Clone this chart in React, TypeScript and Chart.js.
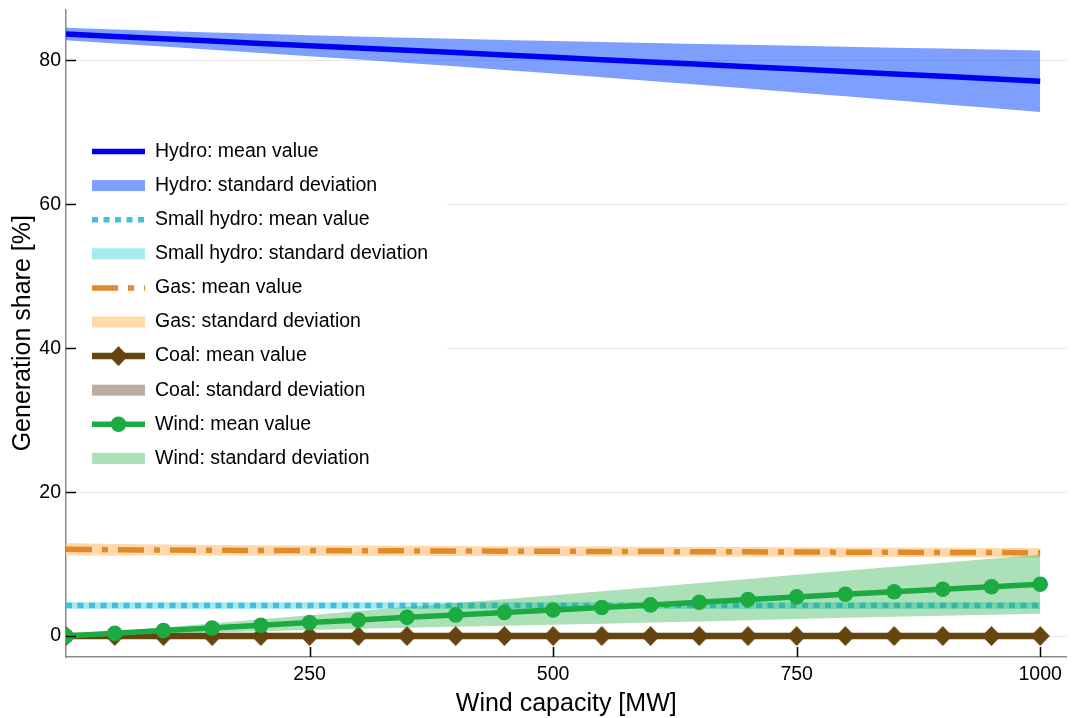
import React, { useEffect, useRef } from 'react';
import { Chart, registerables } from 'chart.js';

Chart.register(...registerables);

// ---------------- data ----------------
const windCapacity = [0, 50, 100, 150, 200, 250, 300, 350, 400, 450, 500, 550, 600, 650, 700, 750, 800, 850, 900, 950, 1000];

const hydroMean = [83.65, 83.33, 83.0, 82.68, 82.36, 82.03, 81.71, 81.4, 81.08, 80.75, 80.43, 80.1, 79.78, 79.45, 79.12, 78.79, 78.45, 78.12, 77.78, 77.45, 77.11];
const hydroStd = [0.87, 0.97, 1.08, 1.2, 1.33, 1.46, 1.6, 1.75, 1.91, 2.08, 2.26, 2.45, 2.64, 2.84, 3.04, 3.24, 3.44, 3.65, 3.86, 4.06, 4.27];

const smallHydroMean = [4.26, 4.26, 4.26, 4.26, 4.25, 4.25, 4.25, 4.25, 4.25, 4.25, 4.25, 4.25, 4.25, 4.25, 4.25, 4.25, 4.25, 4.25, 4.25, 4.25, 4.25];
const smallHydroStd = [0.45, 0.45, 0.45, 0.45, 0.45, 0.45, 0.45, 0.45, 0.45, 0.45, 0.45, 0.45, 0.45, 0.45, 0.45, 0.45, 0.45, 0.45, 0.45, 0.45, 0.45];

const gasMean = [12.06, 12.0, 11.95, 11.92, 11.9, 11.88, 11.86, 11.84, 11.82, 11.8, 11.78, 11.76, 11.74, 11.72, 11.7, 11.68, 11.66, 11.64, 11.62, 11.6, 11.58];
const gasStd = [0.88, 0.8, 0.76, 0.74, 0.73, 0.72, 0.71, 0.7, 0.7, 0.69, 0.69, 0.68, 0.68, 0.67, 0.67, 0.66, 0.66, 0.66, 0.65, 0.65, 0.65];

const coalMean = [0, 0, 0, 0, 0, 0, 0, 0, 0, 0, 0, 0, 0, 0, 0, 0, 0, 0, 0, 0, 0];
const coalStd = [0, 0, 0, 0, 0, 0, 0, 0, 0, 0, 0, 0, 0, 0, 0, 0, 0, 0, 0, 0, 0];

const windMean = [0, 0.38, 0.76, 1.13, 1.5, 1.87, 2.24, 2.6, 2.94, 3.28, 3.62, 3.97, 4.33, 4.7, 5.07, 5.44, 5.8, 6.15, 6.51, 6.85, 7.2];
const windStd = [0, 0.21, 0.42, 0.62, 0.83, 1.03, 1.24, 1.44, 1.64, 1.84, 2.04, 2.25, 2.45, 2.66, 2.87, 3.07, 3.27, 3.48, 3.68, 3.89, 4.09];

const xTickValues = [250, 500, 750, 1000];
const yTickValues = [0, 20, 40, 60, 80];

const xTitle = 'Wind capacity [MW]';
const yTitle = 'Generation share [%]';

const FONT = '"Liberation Sans", Arial, Helvetica, sans-serif';

function makeDiamond(w: number, h: number, color: string) {
  const c = document.createElement('canvas');
  c.width = w;
  c.height = h;
  const g = c.getContext('2d')!;
  g.fillStyle = color;
  g.beginPath();
  g.moveTo(w / 2, 0);
  g.lineTo(w, h / 2);
  g.lineTo(w / 2, h);
  g.lineTo(0, h / 2);
  g.closePath();
  g.fill();
  return c;
}

type Series = {
  name: string;
  mean: number[];
  std: number[];
  line: string;
  band: string;
  dash: number[];
  width: number;
  marker: any;
  radius: number;
};

function buildSeries(): Series[] {
  return [
    { name: 'Hydro', mean: hydroMean, std: hydroStd, line: '#0000f0', band: 'rgba(0,64,255,0.5)', dash: [], width: 5.5, marker: 'circle', radius: 0 },
    { name: 'Small hydro', mean: smallHydroMean, std: smallHydroStd, line: '#43bee0', band: '#a6ebef', dash: [6, 5.5], width: 5.5, marker: 'circle', radius: 0 },
    { name: 'Gas', mean: gasMean, std: gasStd, line: '#df8b2b', band: '#ffd9ac', dash: [26, 10, 6, 10], width: 5.5, marker: 'circle', radius: 0 },
    { name: 'Coal', mean: coalMean, std: coalStd, line: '#654410', band: '#bcaca2', dash: [], width: 6.5, marker: makeDiamond(19, 20, '#654410'), radius: 9.5 },
    { name: 'Wind', mean: windMean, std: windStd, line: '#1bab40', band: 'rgba(27,171,64,0.37)', dash: [], width: 5.5, marker: 'circle', radius: 7.8 },
  ];
}

const overlayPlugin = {
  id: 'overlay',
  afterDraw(chart: any) {
    const ctx: CanvasRenderingContext2D = chart.ctx;
    const area = chart.chartArea;
    const xs = chart.scales.x;
    const ys = chart.scales.y;
    ctx.save();

    // legend box
    const boxL = area.left + 1;
    const boxT = 132;
    const boxR = 447;
    const boxB = 478;
    ctx.fillStyle = '#ffffff';
    ctx.fillRect(boxL, boxT, boxR - boxL, boxB - boxT);

    const entries = chart.data.datasets
      .filter((d: any) => d.legendIndex !== undefined)
      .sort((a: any, b: any) => a.legendIndex - b.legendIndex);

    const sx0 = 92;
    const sx1 = 145;
    const tx = 155;
    entries.forEach((d: any, i: number) => {
      const y = 151.5 + 34.1 * i;
      if (d.legendKind === 'band') {
        ctx.fillStyle = d.backgroundColor;
        ctx.fillRect(sx0, y - 5.5, sx1 - sx0, 11);
      } else {
        ctx.save();
        ctx.strokeStyle = d.borderColor;
        ctx.lineWidth = d.borderWidth;
        ctx.setLineDash(d.borderDash || []);
        ctx.lineCap = 'butt';
        ctx.beginPath();
        ctx.moveTo(sx0, y);
        ctx.lineTo(sx1, y);
        ctx.stroke();
        ctx.restore();
        const cx = (sx0 + sx1) / 2;
        if (d.pointRadius > 0) {
          if (typeof d.pointStyle === 'string') {
            ctx.fillStyle = d.pointBackgroundColor;
            ctx.beginPath();
            ctx.arc(cx, y, d.pointRadius, 0, Math.PI * 2);
            ctx.fill();
          } else {
            const img = d.pointStyle;
            ctx.drawImage(img, cx - img.width / 2, y - img.height / 2);
          }
        }
      }
      ctx.fillStyle = '#000';
      ctx.font = `19.5px ${FONT}`;
      ctx.textAlign = 'left';
      ctx.textBaseline = 'middle';
      ctx.fillText(d.label, tx, y);
    });

    // inward tick marks
    ctx.strokeStyle = '#000';
    ctx.lineWidth = 1.5;
    ys.ticks.forEach((t: any) => {
      const py = Math.round(ys.getPixelForValue(t.value)) + 0.5;
      ctx.beginPath();
      ctx.moveTo(area.left, py);
      ctx.lineTo(area.left + 10, py);
      ctx.stroke();
    });
    xs.ticks.forEach((t: any) => {
      const px = Math.round(xs.getPixelForValue(t.value)) + 0.5;
      ctx.beginPath();
      ctx.moveTo(px, area.bottom);
      ctx.lineTo(px, area.bottom - 10);
      ctx.stroke();
    });
    ctx.restore();
  },
};

function buildConfig(): any {
  const series = buildSeries();
  const datasets: any[] = [];
  let seq = 0;
  series.forEach((s, k) => {
    const upper = windCapacity.map((x, i) => ({ x, y: s.mean[i] + s.std[i] }));
    const lower = windCapacity.map((x, i) => ({ x, y: s.mean[i] - s.std[i] }));
    const mean = windCapacity.map((x, i) => ({ x, y: s.mean[i] }));
    datasets.push({
      label: `${s.name}: standard deviation`,
      legendKind: 'band',
      legendIndex: 2 * k + 1,
      data: upper,
      borderWidth: 0,
      borderColor: 'rgba(0,0,0,0)',
      backgroundColor: s.band,
      pointRadius: 0,
      fill: '+1',
      tension: 0,
      order: 100 - seq++,
    });
    datasets.push({
      label: '',
      data: lower,
      borderWidth: 0,
      borderColor: 'rgba(0,0,0,0)',
      backgroundColor: s.band,
      pointRadius: 0,
      fill: false,
      tension: 0,
      order: 100 - seq++,
    });
    datasets.push({
      label: `${s.name}: mean value`,
      legendKind: 'line',
      legendIndex: 2 * k,
      data: mean,
      borderColor: s.line,
      backgroundColor: s.line,
      borderWidth: s.width,
      borderDash: s.dash,
      borderCapStyle: 'butt',
      pointRadius: s.radius,
      pointHoverRadius: s.radius,
      pointStyle: s.marker,
      pointBackgroundColor: s.line,
      pointBorderWidth: 0,
      fill: false,
      tension: 0,
      clip: 0,
      order: 100 - seq++,
    });
  });

  return {
    type: 'line',
    data: { datasets },
    options: {
      animation: false,
      responsive: true,
      maintainAspectRatio: false,
      events: [],
      layout: { padding: { top: 8, right: 4, left: 0, bottom: 0 } },
      plugins: {
        legend: { display: false },
        tooltip: { enabled: false },
        title: { display: false },
      },
      scales: {
        x: {
          type: 'linear',
          min: 0,
          max: 1027,
          afterFit: (s: any) => {
            s.height = 61;
            s.paddingLeft = 0;
            s.paddingRight = 0;
            s.paddingTop = 0;
            s.paddingBottom = 0;
          },
          afterBuildTicks: (s: any) => { s.ticks = xTickValues.map((v) => ({ value: v })); },
          grid: { display: false, drawTicks: false },
          border: { display: true, color: '#8a8a8a', width: 1.5 },
          ticks: {
            autoSkip: false,
            maxRotation: 0,
            padding: 6,
            color: '#000',
            font: { family: FONT, size: 19.5 },
            callback: (v: any) => String(v),
          },
          title: {
            display: true,
            text: xTitle,
            color: '#000',
            font: { family: FONT, size: 25, lineHeight: 1.1 },
            padding: { top: 0, bottom: 0 },
          },
        },
        y: {
          type: 'linear',
          min: -2.91,
          max: 87.07,
          afterFit: (s: any) => {
            s.width = 66;
            s.paddingLeft = 0;
            s.paddingRight = 0;
            s.paddingTop = 0;
            s.paddingBottom = 0;
          },
          afterBuildTicks: (s: any) => { s.ticks = yTickValues.map((v) => ({ value: v })); },
          grid: { display: true, drawTicks: false, color: '#e6e6e6', lineWidth: 1 },
          border: { display: true, color: '#8a8a8a', width: 1.5 },
          ticks: {
            autoSkip: false,
            padding: 5,
            color: '#000',
            font: { family: FONT, size: 19.5 },
            callback: (v: any) => String(v),
          },
          title: {
            display: true,
            text: yTitle,
            color: '#000',
            font: { family: FONT, size: 25 },
            padding: { top: 8, bottom: 0 },
          },
        },
      },
    },
    plugins: [overlayPlugin],
  };
}

export default function App() {
  const ref = useRef<HTMLCanvasElement>(null);
  useEffect(() => {
    if (!ref.current) return;
    const chart = new Chart(ref.current, buildConfig());
    return () => chart.destroy();
  }, []);
  return (
    <div style={{ position: 'fixed', left: 0, top: 0, width: 1076, height: 718, background: '#fff' }}>
      <canvas ref={ref} />
    </div>
  );
}
